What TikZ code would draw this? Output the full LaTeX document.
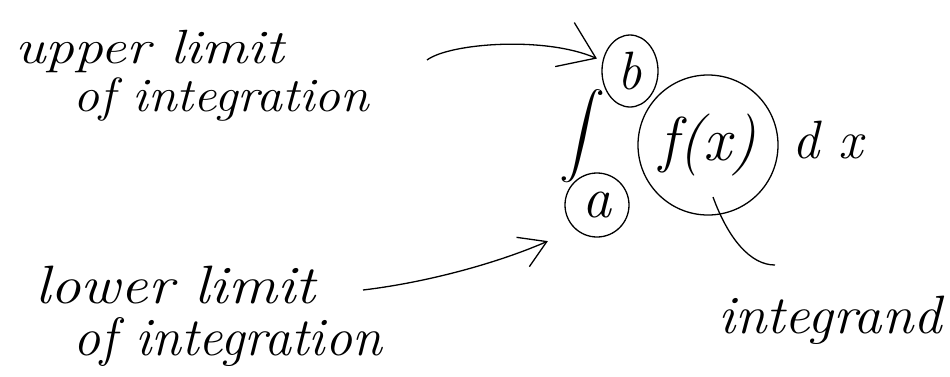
\documentclass[tikz,border=0pt]{standalone}
\usetikzlibrary{arrows.meta,shapes.geometric,calc}
\begin{document}
\begin{tikzpicture}[x=1pt,y=-1pt,
  ink/.style={line width=1.3pt,black},
  lbl/.style={anchor=base west,inner sep=0pt,font=\fontsize{54}{60}\selectfont\itshape},
  slbl/.style={anchor=base west,inner sep=0pt,font=\fontsize{48}{52}\selectfont\itshape},
  ring/.style={draw,ink,ellipse,inner sep=0pt},
  barbA/.style={-{Straight Barb[length=34pt,width=48pt,line width=1.3pt]}},
  barbB/.style={-{Straight Barb[length=26pt,width=32pt,line width=1.3pt]}}]
\useasboundingbox (0,0) rectangle (950,376);
% labels
\node[slbl] (ul1) at (15,63) {\scalebox{1.2}[1]{upper limit}};
\node[slbl] (ul2) at (73,111) {\scalebox{1.08}[1]{of integration}};
\node[lbl] (ll1) at (35,303) {\scalebox{1.13}[1]{lower limit}};
\node[lbl] (ll2) at (73,355) {of integration};
\node[lbl] (itg) at (718,333) {\scalebox{1.05}[1]{integrand}};
% circled parts
\node[ring,minimum width=56pt,minimum height=72pt,font=\fontsize{54}{56}\selectfont\itshape] (b) at (630,71) {b};
\node[ring,minimum width=140pt,minimum height=140pt,font=\fontsize{62}{62}\selectfont\itshape] (fx) at (708,145) {f(x)};
\node[ring,minimum width=64pt,minimum height=64pt,font=\fontsize{58}{58}\selectfont\itshape] (a) at (597,205) {a};
\node[lbl] (dx) at (792,158) {d x};
% integral sign
\node[inner sep=0pt] (int) at (582,136) {\scalebox{1}[4.2]{\scalebox{4.6}[1]{$\displaystyle\int$}}};
% connectors
\coordinate (us) at (427,60);
\coordinate (ls) at (363,290);
\coordinate (ie) at (775,265);
\coordinate (is) at (713,197);
\draw[ink,barbA,shorten >=6pt] (us) .. controls (450,43) and (545,36) .. (b.160);
\draw[ink,barbB] (ls) .. controls (430,282) and (500,262) .. ($(a.south west)+(-26,13)$);
\draw[ink] (is) .. controls (728,238) and (750,265) .. (ie);
\end{tikzpicture}
\end{document}
